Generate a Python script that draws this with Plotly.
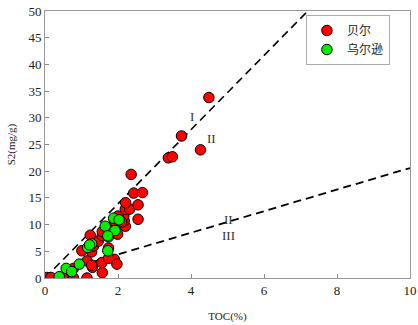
import plotly.graph_objects as go

# --- data ---
beier_toc = [0.05, 0.16, 0.5, 0.78, 1.15, 0.78, 1.3, 1.57, 1.15, 1.28, 1.56, 1.9, 1.97, 1.74,
             1.01, 1.28, 1.33, 1.46, 1.24, 1.57, 1.99, 1.83, 1.74, 2.2, 2.17, 1.9, 2.16, 2.0,
             2.55, 2.2, 2.32, 2.55, 2.21, 2.43, 2.67, 2.36, 3.38, 3.49, 3.74, 4.26, 4.49, 1.57, 2.1]
beier_s2 = [0.1, 0.1, 0.0, 0.0, 0.0, 1.8, 2.0, 1.0, 3.2, 2.4, 2.9, 3.5, 2.6, 3.7,
            5.1, 4.9, 6.0, 6.9, 8.0, 7.9, 8.2, 9.0, 5.6, 9.7, 10.7, 10.7, 11.6, 11.6,
            11.0, 12.9, 12.9, 13.7, 14.1, 15.9, 16.0, 19.4, 22.5, 22.7, 26.6, 24.0, 33.8, 8.7, 10.5]

wuerxun_toc = [0.39, 0.58, 0.73, 0.94, 1.17, 1.28, 1.22, 1.72, 1.74, 1.65, 1.92, 1.88, 2.03, 1.72]
wuerxun_s2 = [0.25, 1.8, 1.2, 2.6, 5.7, 6.4, 6.2, 5.1, 7.7, 9.7, 8.9, 11.2, 10.9, 7.9]

line1_x = [0.0, 7.2]
line1_y = [0.0, 50.0]
line2_x = [1.0, 10.0]
line2_y = [2.4, 20.6]

zone_labels = ["I", "II", "II", "III"]
zone_x = [4.04, 4.55, 5.03, 5.03]
zone_y = [30.2, 26.2, 11.0, 8.0]

x_ticks = [0, 2, 4, 6, 8, 10]
y_ticks = [0, 5, 10, 15, 20, 25, 30, 35, 40, 45, 50]

serif = "Liberation Serif, Noto Sans CJK SC"

fig = go.Figure()
fig.add_trace(go.Scatter(x=line1_x, y=line1_y, mode="lines", showlegend=False,
                         line=dict(color="black", width=1.6, dash="8px,5px"), hoverinfo="skip"))
fig.add_trace(go.Scatter(x=line2_x, y=line2_y, mode="lines", showlegend=False,
                         line=dict(color="black", width=1.8, dash="8px,5px"), hoverinfo="skip"))
fig.add_trace(go.Scatter(x=beier_toc, y=beier_s2, mode="markers", name="贝尔",
                         marker=dict(color="#ff0000", size=10.5, line=dict(color="black", width=1))))
fig.add_trace(go.Scatter(x=wuerxun_toc, y=wuerxun_s2, mode="markers", name="乌尔逊",
                         marker=dict(color="#00ee00", size=10.5, line=dict(color="black", width=1))))

for t, xx, yy in zip(zone_labels, zone_x, zone_y):
    fig.add_annotation(x=xx, y=yy, text=t, showarrow=False,
                       font=dict(family=serif, size=13, color="#333333"))

fig.update_layout(
    width=418, height=325,
    margin=dict(l=45, r=8, t=11, b=47),
    paper_bgcolor="white", plot_bgcolor="white",
    font=dict(family=serif, size=12, color="#222222"),
    legend=dict(x=0.945, y=0.985, xanchor="right", yanchor="top",
                bgcolor="white", bordercolor="#aaaaaa", borderwidth=1,
                font=dict(family="Noto Sans CJK SC", size=12, color="#222222"),
                itemwidth=30, tracegroupgap=0),
)
fig.update_xaxes(range=[0, 10], tickvals=x_ticks, ticks="inside", ticklen=4, tickcolor="#888888",
                 showgrid=False, zeroline=False, showline=True, linecolor="#999999", linewidth=1,
                 mirror=True, tickfont=dict(family=serif, size=13), automargin=False,
                 title=dict(text="TOC(%)", font=dict(family=serif, size=11), standoff=15))
fig.update_yaxes(range=[0, 50], tickvals=y_ticks, ticks="inside", ticklen=4, tickcolor="#888888",
                 showgrid=False, zeroline=False, showline=True, linecolor="#999999", linewidth=1,
                 mirror=True, tickfont=dict(family=serif, size=13), automargin=False,
                 title=dict(text="S2(mg/g)", font=dict(family=serif, size=11), standoff=10))

fig.write_html("out.html", config={"displayModeBar": False},
               post_script="document.body.style.margin='0';document.body.style.padding='0';")
